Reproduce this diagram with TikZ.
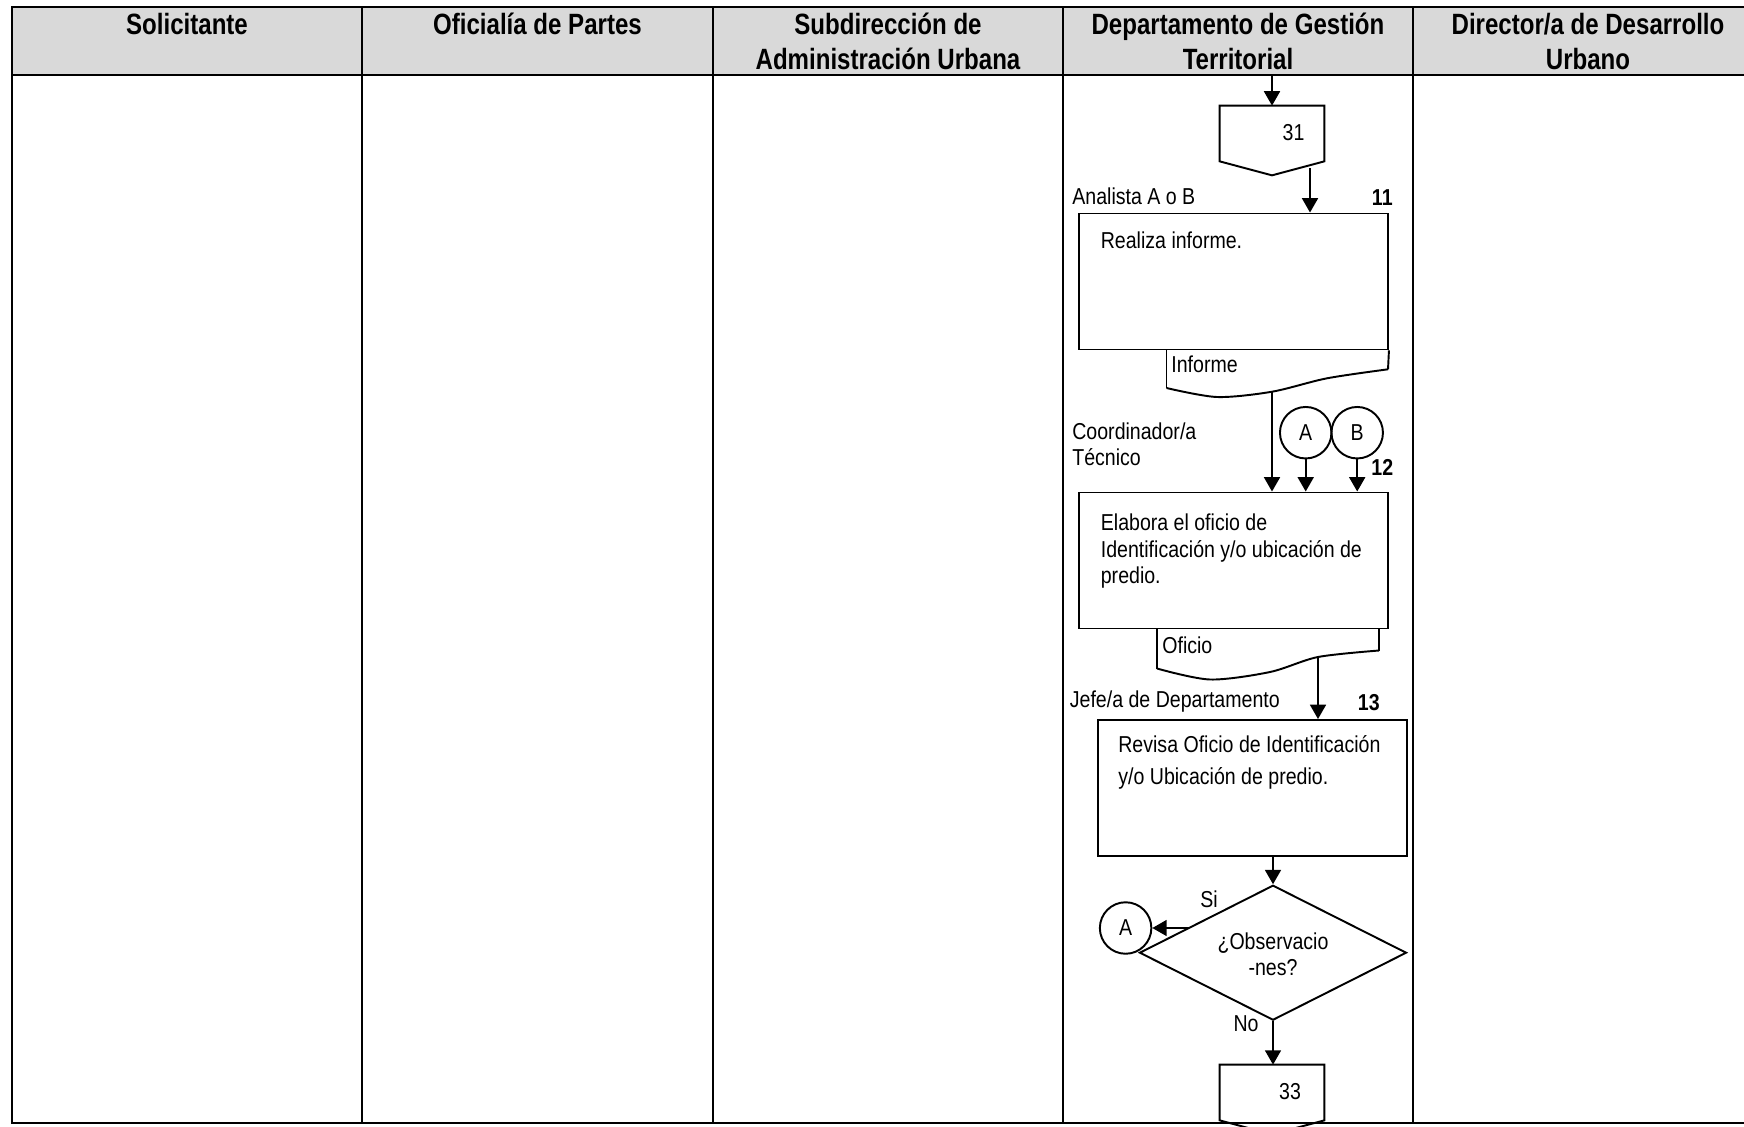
\documentclass[tikz,border=0pt]{standalone}
\usepackage{fontspec}
\setmainfont{Liberation Sans}[FakeStretch=0.85]
\newfontfamily\headfont{Liberation Sans}[FakeStretch=0.82]
\usetikzlibrary{arrows.meta,shapes.geometric,calc}
\definecolor{headgray}{HTML}{D9D9D9}
% one drawing unit (0.02cm) expressed in points, for node sizes
\newcommand\pxu{0.56906pt}

\tikzset{
  lane/.style={line width=1.5pt},
  shapeline/.style={line width=1.1pt},
  flow/.style={line width=1.35pt, -{Triangle[length=8.2pt,width=9pt]}},
  bodytext/.style={font=\fontsize{13.1}{15.1}\selectfont, inner sep=0pt},
  headtext/.style={font=\headfont\bfseries\fontsize{16.7}{19.6}\selectfont, inner sep=0pt, align=center, anchor=north},
  stepnum/.style={font=\fontsize{13.1}{15.1}\selectfont\bfseries, inner sep=0pt, anchor=base east},
  procbox/.style={draw, shapeline, inner sep=0pt, minimum width=309*\pxu, minimum height=136*\pxu},
  offpage/.style={inner sep=0pt, minimum width=104*\pxu, minimum height=55*\pxu},
  linkcircle/.style={draw, shapeline, circle, bodytext, minimum size=51.5*\pxu},
}

\begin{document}
\begin{tikzpicture}[x=0.02cm, y=-0.02cm]
\useasboundingbox (0,0) rectangle (1744,1126);
\clip (0,0) rectangle (1744,1126);

% swimlane table
\fill[headgray] (12,7) rectangle (1744,75);
\draw[lane] (1744,7) -- (12,7) -- (12,1123) -- (1744,1123);
\draw[lane] (12,75) -- (1744,75);
\foreach \x in {362,713,1063,1413} \draw[lane] (\x,7) -- (\x,1123);

% lane titles
\node[headtext] (h1) at (187,10.35) {\strut Solicitante};
\node[headtext] (h2) at (537.5,10.35) {\strut Oficialía de Partes};
\node[headtext] (h3) at (888,10.35) {\strut Subdirección de\\Administración Urbana};
\node[headtext] (h4) at (1238,10.35) {\strut Departamento de Gestión\\Territorial};
\node[headtext] (h5) at (1588,10.35) {\strut Director/a de Desarrollo\\Urbano};

% incoming off-page connector 31
\coordinate (start) at (1272,75);
\node[offpage] (c31) at (1272,133.5) {};
\draw[shapeline] (c31.north west) -- (c31.north east) -- (c31.south east)
  -- ($(c31.south)+(0,14)$) -- (c31.south west) -- cycle;
\node[bodytext, anchor=base] (t31) at (1293.5,140) {31};
\draw[flow] (start) -- (c31.north);

% step 11
\node[bodytext, anchor=base west] (r11) at (1072,204.5) {Analista A o B};
\node[stepnum] (n11) at (1393,205) {11};
\node[procbox] (b11) at (1233.5,281.5) {};
\node[bodytext, anchor=base west] (x11) at (1100.5,248.5) {Realiza informe.};
\coordinate (c31out) at (1310,168);
\draw[flow] (c31out) -- (c31out |- b11.north);

% document: Informe
\draw[shapeline] (1166.5,349.5) -- (1166.5,388);
\draw[shapeline] plot[smooth] coordinates {(1166.5,388) (1217,397) (1272,391.7) (1327,378.3) (1388,369.3)};
\draw[shapeline] (1388,369.3) -- (b11.south east);
\node[bodytext, anchor=base west] (d11) at (1171,372) {Informe};
\coordinate (d11out) at (1272,391.7);

% step 12
\node[bodytext, anchor=north west, align=left] (r12) at (1072,420.5) {\strut Coordinador/a\\Técnico};
\node[linkcircle] (ca) at (1305.7,432.7) {A};
\node[linkcircle] (cb) at (1357.2,432.7) {B};
\node[stepnum] (n12) at (1393.5,475) {12};
\node[procbox] (b12) at (1233.5,560.5) {};
\node[bodytext, anchor=north west, align=left] (x12) at (1100.5,512) {\strut Elabora el oficio de\\Identificación y/o ubicación de\\predio.};
\draw[flow] (d11out) -- (d11out |- b12.north);
\draw[flow] (ca.south) -- (ca.south |- b12.north);
\draw[flow] (cb.south) -- (cb.south |- b12.north);

% document: Oficio
\draw[shapeline] (1157,628.5) -- (1157,668.5);
\draw[shapeline] plot[smooth] coordinates {(1157,668.5) (1210,679.5) (1270,672) (1318,657) (1379,650.5)};
\draw[shapeline] (1379,650.5) -- (1379,628.5);
\node[bodytext, anchor=base west] (d12) at (1162,653.5) {Oficio};
\coordinate (d12out) at (1318,657);

% step 13
\node[bodytext, anchor=base west] (r13) at (1069.5,707.5) {Jefe/a de Departamento};
\node[stepnum] (n13) at (1380,710) {13};
\node[procbox] (b13) at (1252.5,788) {};
\node[bodytext, anchor=north west, align=left, font=\fontsize{13.1}{18.2}\selectfont] (x13) at (1118,730.1) {\strut Revisa Oficio de Identificación\\y/o Ubicación de predio.};
\draw[flow] (d12out) -- (d12out |- b13.north);

% decision
\node[draw, shapeline, diamond, inner sep=0pt, minimum width=267*\pxu, minimum height=135*\pxu] (q) at (1273,952.7) {};
\node[bodytext, anchor=north, align=center] (qt) at (1273,930.5) {\strut ¿Observacio\\-nes?};
\draw[flow] (q.north |- b13.south) -- (q.north);
\node[linkcircle] (ca2) at (1125.6,928) {A};
\coordinate (qsi) at (1189,928);
\draw[flow] (qsi) -- (ca2.east);
\node[bodytext, anchor=base] (lsi) at (1209,907) {Si};
\node[bodytext, anchor=base] (lno) at (1246,1031) {No};

% outgoing off-page connector 33
\node[offpage] (c33) at (1272,1092.5) {};
\draw[shapeline] (c33.north west) -- (c33.north east) -- (c33.south east)
  -- ($(c33.south)+(0,14)$) -- (c33.south west) -- cycle;
\node[bodytext, anchor=base] (t33) at (1290,1099) {33};
\draw[flow] (q.south) -- (q.south |- c33.north);
\end{tikzpicture}
\end{document}
